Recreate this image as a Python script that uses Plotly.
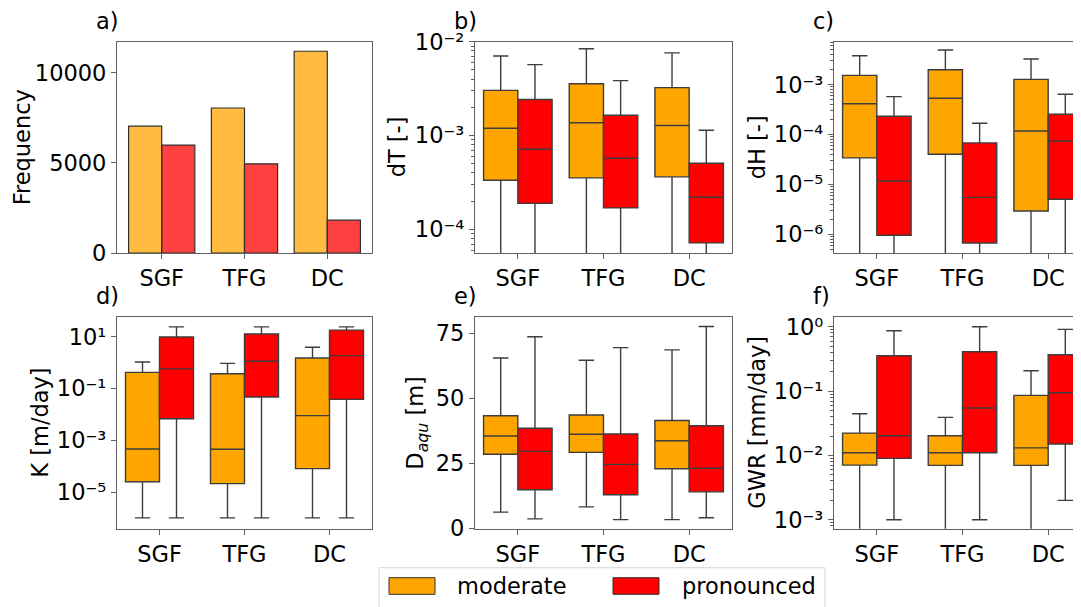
import plotly.graph_objects as go
import numpy as np

W, H = 1081, 607
OFF = 8  # page body margin in the browser
FONT = "DejaVu Sans"
FS = 22.5

categories = ["SGF", "TFG", "DC"]
series = ["moderate", "pronounced"]
fill_colors = ["#FFA500", "#FF0000"]
bar_colors = ["rgba(255,165,0,0.75)", "rgba(255,0,0,0.75)"]

# a) Frequency
freq_moderate = [7040, 8050, 11200]
freq_pronounced = [5990, 4950, 1820]

# b) dT [-]  (q1, median, q3, lower whisker, upper whisker)
dT_mod = dict(q1=[3.35e-4, 3.55e-4, 3.64e-4], med=[1.2e-3, 1.37e-3, 1.28e-3],
              q3=[3.03e-3, 3.57e-3, 3.24e-3], lo=[2e-5, 2e-5, 2e-5], hi=[7.05e-3, 8.4e-3, 7.6e-3])
dT_pro = dict(q1=[1.9e-4, 1.7e-4, 7.2e-5], med=[7.15e-4, 5.74e-4, 2.21e-4],
              q3=[2.42e-3, 1.65e-3, 5.07e-4], lo=[2e-5, 2e-5, 2e-5], hi=[5.7e-3, 3.85e-3, 1.14e-3])
# c) dH [-]
dH_mod = dict(q1=[3.4e-5, 4.03e-5, 2.94e-6], med=[4.16e-4, 5.33e-4, 1.18e-4],
              q3=[1.54e-3, 2.0e-3, 1.28e-3], lo=[1e-7, 1e-7, 1e-7], hi=[3.8e-3, 4.95e-3, 3.27e-3])
dH_pro = dict(q1=[9.6e-7, 6.7e-7, 5.05e-6], med=[1.17e-5, 5.5e-6, 7.45e-5],
              q3=[2.33e-4, 6.8e-5, 2.55e-4], lo=[1e-7, 1e-7, 1e-7], hi=[5.75e-4, 1.68e-4, 6.42e-4])
# d) K [m/day]
K_mod = dict(q1=[2.5e-5, 2.1e-5, 8e-5], med=[4.6e-4, 4.5e-4, 8.9e-3],
             q3=[0.42, 0.37, 1.5], lo=[1e-6, 1e-6, 1e-6], hi=[1.05, 0.93, 3.9])
K_pro = dict(q1=[6.8e-3, 0.047, 0.038], med=[0.57, 1.12, 1.85],
             q3=[9.7, 12.7, 18.0], lo=[1e-6, 1e-6, 1e-6], hi=[24.0, 24.0, 24.0])
# e) D_aqu [m]
D_mod = dict(q1=[28.5, 29.2, 22.9], med=[35.5, 36.2, 33.7],
             q3=[43.3, 43.6, 41.5], lo=[6.2, 8.2, 3.3], hi=[65.6, 64.7, 68.7])
D_pro = dict(q1=[14.8, 12.9, 14.0], med=[29.6, 24.6, 23.1],
             q3=[38.5, 36.3, 39.5], lo=[3.6, 3.3, 4.0], hi=[73.8, 69.6, 77.7])
# f) GWR [mm/day]
G_mod = dict(q1=[7.06e-3, 7.0e-3, 7.0e-3], med=[0.011, 0.011, 0.0131],
             q3=[0.0222, 0.0202, 0.0857], lo=[3e-4, 3e-4, 3e-4], hi=[0.0444, 0.039, 0.207])
G_pro = dict(q1=[8.97e-3, 0.011, 0.015], med=[0.0202, 0.0544, 0.094],
             q3=[0.354, 0.408, 0.367], lo=[1e-3, 1e-3, 2e-3], hi=[0.867, 1.0, 0.91])

LINE = "#3d3d3d"
FRAME = "#606060"


def px(x):
    return (x - OFF) / W


def py(y):
    return 1 - (y - OFF) / H


fig = go.Figure()

# panel a: bars
for name, vals, col in zip(series, [freq_moderate, freq_pronounced], bar_colors):
    fig.add_trace(go.Bar(x=categories, y=vals, name=name, marker=dict(color=col, line=dict(color="#303030", width=1.2)),
                         xaxis="x", yaxis="y", showlegend=False, offsetgroup=name))

box_panels = [(dT_mod, dT_pro, 2), (dH_mod, dH_pro, 3), (K_mod, K_pro, 4), (D_mod, D_pro, 5), (G_mod, G_pro, 6)]
for mod, pro, k in box_panels:
    for name, d, col in zip(series, [mod, pro], fill_colors):
        fig.add_trace(go.Box(x=categories, q1=d["q1"], median=d["med"], q3=d["q3"],
                             lowerfence=d["lo"], upperfence=d["hi"], name=name,
                             fillcolor=col, line=dict(color=LINE, width=1.4), whiskerwidth=0.45,
                             xaxis=f"x{k}", yaxis=f"y{k}", showlegend=False, offsetgroup=name,
                             boxpoints=False))

# panel geometry in screen pixels (left, right, top, bottom)
top_row = (41.7, 253.0)
bot_row = (316.7, 528.7)
cols = [(117, 372), (475, 732), (834, W + OFF)]
UNIT = 257 / 3.0  # pixels per category in box panels

tickfont = dict(family=FONT, size=FS, color="black")


def axis_common():
    return dict(showline=True, linecolor=FRAME, linewidth=1.2, ticks="outside", ticklen=5,
                tickcolor=FRAME, tickwidth=1.2, showgrid=False, zeroline=False, tickfont=tickfont,
                automargin=False)


SUP = str.maketrans("-0123456789", "\u207b\u2070\u00b9\u00b2\u00b3\u2074\u2075\u2076\u2077\u2078\u2079")


def sup(e):
    return "10" + str(e).translate(SUP)


def minor_vals(lo, hi):
    out = []
    for e in range(lo, hi):
        for m in range(2, 10):
            out.append(m * 10.0 ** e)
    return out


layout = dict(width=W, height=H, margin=dict(l=0, r=0, t=0, b=0, pad=0, autoexpand=False),
              plot_bgcolor="white", paper_bgcolor="white",
              barmode="group", bargap=0.2, bargroupgap=0, boxmode="group", boxgap=0.2, boxgroupgap=0,
              font=dict(family=FONT, size=FS, color="black"))

positions = {1: (cols[0], top_row), 2: (cols[1], top_row), 3: (cols[2], top_row),
             4: (cols[0], bot_row), 5: (cols[1], bot_row), 6: (cols[2], bot_row)}

for k, ((xl, xr), (yt, yb)) in positions.items():
    xs = "xaxis" if k == 1 else f"xaxis{k}"
    ys = "yaxis" if k == 1 else f"yaxis{k}"
    xa = axis_common()
    xa.update(domain=[px(xl), min(1.0, px(xr))], anchor="y" if k == 1 else f"y{k}", mirror=True,
              type="category", categoryorder="array", categoryarray=categories)
    if k == 1:
        xa["range"] = [-0.54, 2.54]
    elif k in (3, 6):
        xa["range"] = [-0.5, -0.5 + (xr - xl) / UNIT]
    else:
        xa["range"] = [-0.5, 2.5]
    ya = axis_common()
    ya.update(domain=[py(yb), py(yt)], anchor="x" if k == 1 else f"x{k}", mirror=True)
    layout[xs] = xa
    layout[ys] = ya

# y axes specifics
layout["yaxis"].update(range=[0, 11730], tickvals=[0, 5000, 10000], ticktext=["0", "5000", "10000"])
minor_style = dict(ticks="outside", ticklen=2.5, tickcolor=FRAME, tickwidth=1)
layout["yaxis2"].update(type="log", range=[-4.25, -2.0], tickvals=[1e-4, 1e-3, 1e-2],
                        ticktext=[sup(-4), sup(-3), sup(-2)], minor=dict(tickvals=minor_vals(-5, -2), **minor_style))
layout["yaxis3"].update(type="log", range=[-6.375, -2.138], tickvals=[1e-6, 1e-5, 1e-4, 1e-3],
                        ticktext=[sup(-6), sup(-5), sup(-4), sup(-3)], minor=dict(tickvals=minor_vals(-7, -2), **minor_style))
layout["yaxis4"].update(type="log", range=[-6.417, 1.772], tickvals=[1e-5, 1e-3, 1e-1, 1e1],
                        ticktext=[sup(-5), sup(-3), sup(-1), sup(1)])
layout["yaxis5"].update(range=[-0.2, 81.5], tickvals=[0, 25, 50, 75], ticktext=["0", "25", "50", "75"])
layout["yaxis6"].update(type="log", range=[-3.14, 0.156], tickvals=[1e-3, 1e-2, 1e-1, 1e0],
                        ticktext=[sup(-3), sup(-2), sup(-1), sup(0)], minor=dict(tickvals=minor_vals(-4, 1), **minor_style))

fig.update_layout(**layout)

# panel labels and axis titles
labels = ["a)", "b)", "c)", "d)", "e)", "f)"]
ytitles = ["Frequency", "dT [-]", "dH [-]", "K [m/day]", "D<sub><i>aqu</i></sub> [m]", "GWR [mm/day]"]
ytitle_x = [22, 397, 757, 40, 417, 757]
anns = []
for i, k in enumerate(range(1, 7)):
    (xl, xr), (yt, yb) = positions[k]
    anns.append(dict(x=px(xl - 23), y=py(yt - 21), xref="paper", yref="paper", text=labels[i],
                     showarrow=False, xanchor="left", yanchor="middle", font=dict(family=FONT, size=FS)))
    anns.append(dict(x=px(ytitle_x[i]), y=py((yt + yb) / 2), xref="paper", yref="paper", text=ytitles[i],
                     showarrow=False, textangle=-90, xanchor="center", yanchor="middle", font=dict(family=FONT, size=FS)))

# legend (drawn)
shapes = [dict(type="rect", xref="paper", yref="paper", x0=px(379), x1=px(825), y0=py(612), y1=py(567.7),
               line=dict(color="#d5d5d5", width=1), fillcolor="white", layer="above")]
leg_items = [(389, 435, 455), (613, 659, 680)]
for (x0, x1, tx), name, col in zip(leg_items, series, fill_colors):
    shapes.append(dict(type="rect", xref="paper", yref="paper", x0=px(x0), x1=px(x1), y0=py(594.3), y1=py(577.7),
                       line=dict(color="#303030", width=1), fillcolor=col, layer="above"))
    anns.append(dict(x=px(tx), y=py(586), xref="paper", yref="paper", text=name, showarrow=False,
                     xanchor="left", yanchor="middle", font=dict(family=FONT, size=FS)))

fig.update_layout(annotations=anns, shapes=shapes)
fig.write_html("out.html")
